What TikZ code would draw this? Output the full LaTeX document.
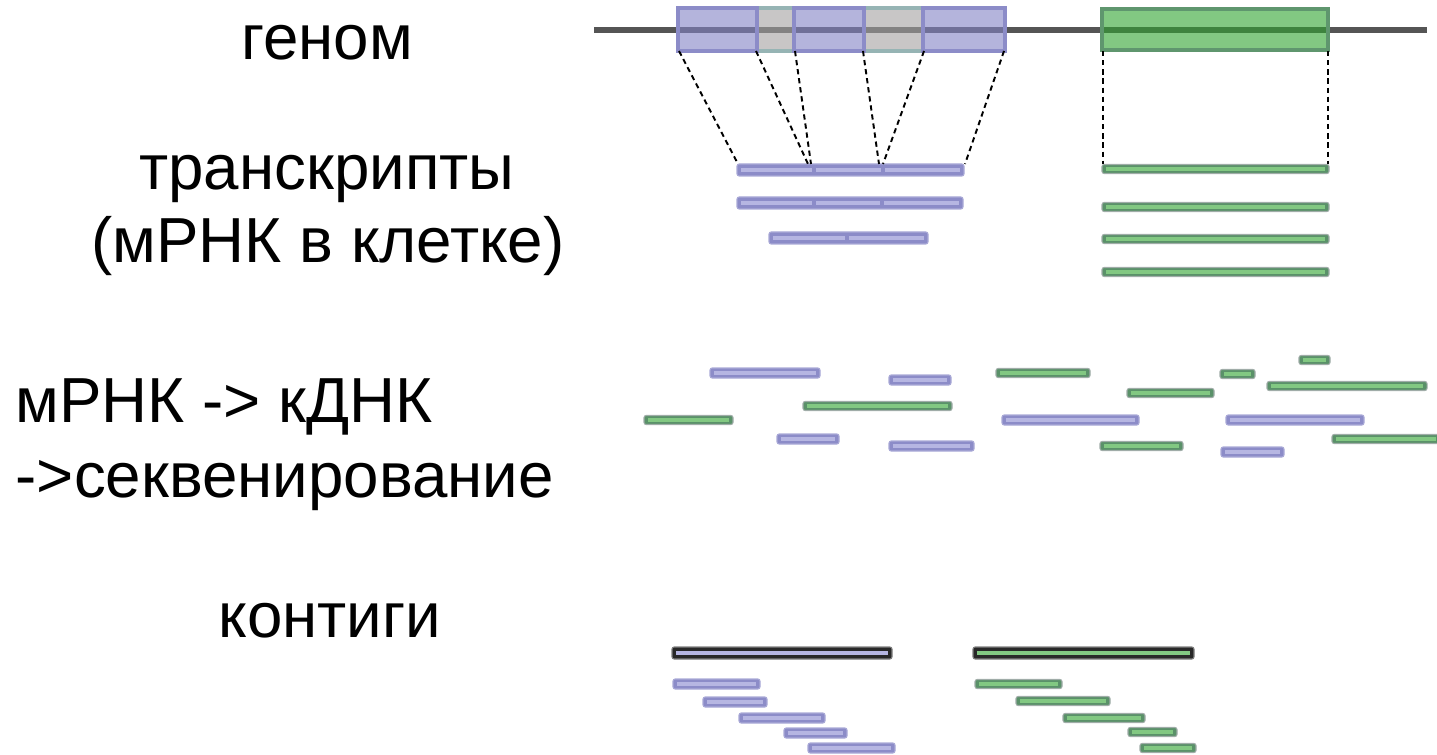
\documentclass[tikz,border=0pt]{standalone}
\usepackage{fontspec}
\setmainfont{Liberation Sans}
\definecolor{pfill}{RGB}{140,140,200}
\definecolor{pin}{RGB}{182,182,226}
\definecolor{gfill}{RGB}{90,145,105}
\definecolor{gin}{RGB}{130,200,130}
\definecolor{gedge}{RGB}{160,172,168}
\definecolor{pedge}{RGB}{170,170,215}
\definecolor{exfill}{RGB}{130,130,197}
\definecolor{exedge}{RGB}{140,140,200}
\definecolor{infill}{RGB}{163,160,160}
\definecolor{inedge}{RGB}{150,180,180}
\definecolor{grfill}{RGB}{47,163,47}
\definecolor{gredge}{RGB}{95,150,110}
\definecolor{genline}{RGB}{85,85,85}
\definecolor{contig}{RGB}{40,40,40}
\tikzset{
  lbl/.style={font=\fontsize{18.1}{21}\selectfont, inner sep=0pt, anchor=base},
  lbll/.style={lbl, anchor=base west},
  pbar/.style={fill=pfill, draw=pedge, line width=0.3pt, rounded corners=0.6pt},
  gbar/.style={fill=gfill, draw=gedge, line width=0.3pt, rounded corners=0.6pt},
  pinner/.style={draw=pin, line width=0.9pt},
  ginner/.style={draw=gin, line width=0.9pt},
  cbar/.style={fill=contig, draw=gray, line width=0.3pt, rounded corners=0.6pt},
  conn/.style={black, line width=0.55pt, dash pattern=on 1.5pt off 1.1pt},
  exon/.style={fill=exfill, fill opacity=0.6, draw=exedge, draw opacity=1, line width=1.1pt},
  intron/.style={fill=infill, fill opacity=0.6, draw=inedge, draw opacity=1, line width=1.1pt},
  gexon/.style={fill=grfill, fill opacity=0.6, draw=gredge, draw opacity=1, line width=0.9pt},
}
\newcommand\PRd[3]{\path[pbar] (#1,#3-5) rectangle (#2,#3+5); \draw[pinner] (#1+4,#3) -- (#2-4,#3);}
\newcommand\GRd[3]{\path[gbar] (#1,#3-4.5) rectangle (#2,#3+4.5); \draw[ginner] (#1+4,#3) -- (#2-4,#3);}
\begin{document}
\begin{tikzpicture}[x=0.01cm,y=-0.01cm]
\useasboundingbox (0,0) rectangle (1437,755);
% labels
\node[lbl] (tgen) at (327,60) {геном};
\node[lbl] (ttr1) at (327,190) {транскрипты};
\node[lbl] (ttr2) at (328,263) {(мРНК в клетке)};
\node[lbll] (tseq1) at (15,422) {мРНК -> кДНК};
\node[lbll] (tseq2) at (15,497) {->секвенирование};
\node[lbl] (tcon) at (330,637) {контиги};
% genome
\draw[genline, line width=1.8pt] (594,30) -- (1427,30);
\path[intron] (757,8) rectangle (794,51);
\path[intron] (864,8) rectangle (923,51);
\path[exon] (678,8) rectangle (757,51);
\path[exon] (794,8) rectangle (864,51);
\path[exon] (923,8) rectangle (1005,51);
\path[gexon] (1102,9) rectangle (1328,50);
\coordinate (e1l) at (679,51);
\coordinate (e1r) at (756,51);
\coordinate (e2l) at (795,51);
\coordinate (e2r) at (863,51);
\coordinate (e3l) at (924,51);
\coordinate (e3r) at (1004,51);
\coordinate (g1l) at (1103,51);
\coordinate (g1r) at (1328,51);
% transcripts purple
\path[pbar] (737,164) rectangle (964,176);
\draw[pinner] (741,170) -- (812,170);
\draw[pinner] (816,170) -- (881,170);
\draw[pinner] (885,170) -- (960,170);
\path[pbar] (737,197) rectangle (963,209);
\draw[pinner] (741,203) -- (812,203);
\draw[pinner] (816,203) -- (880,203);
\draw[pinner] (884,203) -- (959,203);
\path[pbar] (769,232) rectangle (928,244);
\draw[pinner] (773,238) -- (845,238);
\draw[pinner] (849,238) -- (924,238);
\coordinate (t1a) at (738,164);
\coordinate (t1b) at (808,164);
\coordinate (t1c) at (811,164);
\coordinate (t1d) at (879,164);
\coordinate (t1e) at (883,164);
\coordinate (t1f) at (965,164);
% transcripts green
\GRd{1102}{1329}{169}
\GRd{1102}{1329}{207}
\GRd{1102}{1329}{239}
\GRd{1102}{1329}{272}
\coordinate (tg1) at (1103,164);
\coordinate (tg2) at (1328,164);
% connectors
\draw[conn] (e1l) -- (t1a);
\draw[conn] (e1r) -- (t1b);
\draw[conn] (e2l) -- (t1c);
\draw[conn] (e2r) -- (t1d);
\draw[conn] (e3l) -- (t1e);
\draw[conn] (e3r) -- (t1f);
\draw[conn] (g1l) -- (tg1);
\draw[conn] (g1r) -- (tg2);
% reads
\PRd{710}{820}{373}
\PRd{889}{951}{380}
\PRd{777}{839}{439}
\PRd{889}{974}{446}
\PRd{1002}{1139}{420}
\PRd{1226}{1364}{420}
\PRd{1221}{1284}{452}
\GRd{644}{733}{420}
\GRd{803}{952}{406}
\GRd{996}{1090}{373}
\GRd{1127}{1214}{393}
\GRd{1220}{1255}{374}
\GRd{1299}{1330}{360}
\GRd{1267}{1427}{386}
\GRd{1100}{1183}{446}
\GRd{1332}{1440}{439}
% contigs
\path[cbar] (672,647) rectangle (892,659);
\draw[draw=pin, line width=0.9pt] (676,653) -- (888,653);
\path[cbar] (973,647) rectangle (1194,659);
\draw[draw=gin, line width=0.9pt] (977,653) -- (1190,653);
\PRd{673}{760}{684}
\PRd{703}{767}{702}
\PRd{739}{825}{718}
\PRd{784}{847}{733}
\PRd{808}{895}{748}
\GRd{975}{1062}{684}
\GRd{1016}{1110}{701}
\GRd{1063}{1145}{718}
\GRd{1128}{1177}{732}
\GRd{1140}{1196}{748}
\end{tikzpicture}
\end{document}
